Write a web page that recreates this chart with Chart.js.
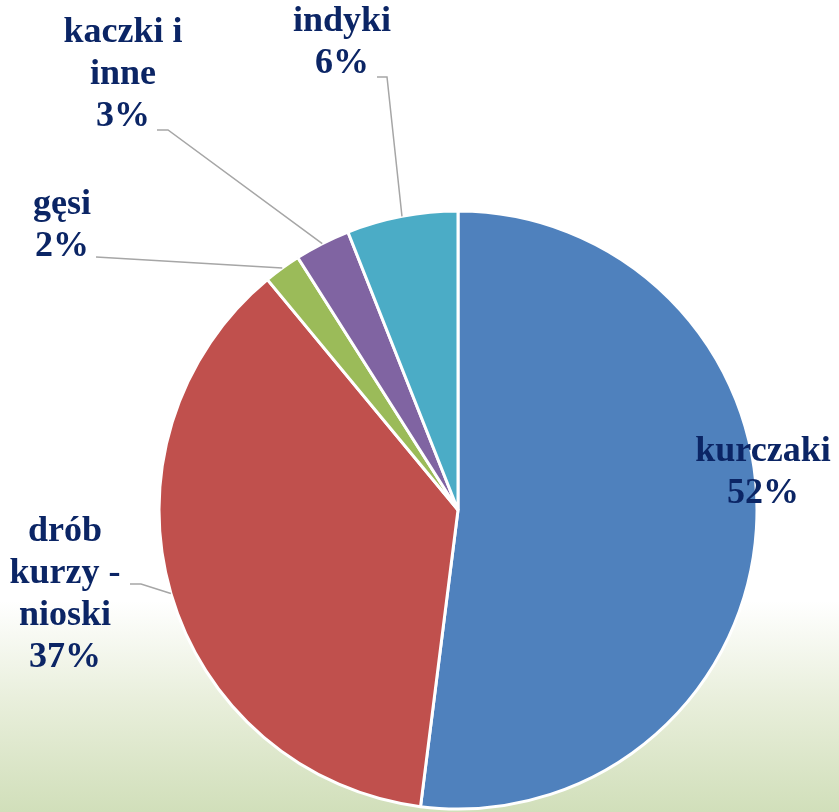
<!DOCTYPE html>
<html>
<head>
<meta charset="utf-8">
<script src="https://cdn.jsdelivr.net/npm/chart.js@4"></script>
<style>
  html, body { margin: 0; padding: 0; }
  body {
    width: 839px; height: 812px; overflow: hidden;
    background: linear-gradient(to bottom, #ffffff 0%, #ffffff 74%, #e9efdc 86%, #d1dfba 100%);
  }
  #wrap { position: relative; width: 839px; height: 812px; }
</style>
</head>
<body>
<div id="wrap"><canvas id="pie" width="839" height="812"></canvas></div>
<script>
// ========== DATA ==========
const categories = ['kurczaki', 'drób kurzy - nioski', 'gęsi', 'kaczki i inne', 'indyki'];
const shares = [52, 37, 2, 3, 6];
const colors = ['#4F81BD', '#C0504D', '#9BBB59', '#8064A2', '#4BACC6'];

// ========== LABEL LAYOUT ==========
// x/y = centre of first text line, stub = where the leader leaves the text
const labelLayout = [
  { x: 763, y: 452, stub: null },
  { x: 65, y: 532, stub: [[130, 584], [141, 584]] },
  { x: 62, y: 205, stub: [[96, 257]] },
  { x: 123, y: 33, stub: [[157, 130], [168, 130]] },
  { x: 342, y: 22, stub: [[377, 77], [387, 77]] }
];
const LABEL_FONT = 'bold 36px "Liberation Serif", "Times New Roman", serif';
const LABEL_COLOR = '#0B2565';
const LINE_H = 42;

function wrapText(ctx, text, maxW) {
  const words = text.split(' ');
  const lines = [];
  let cur = '';
  words.forEach(w => {
    const test = cur ? cur + ' ' + w : w;
    if (cur && ctx.measureText(test).width > maxW) {
      lines.push(cur);
      cur = w;
    } else {
      cur = test;
    }
  });
  if (cur) lines.push(cur);
  return lines;
}

const pieLabels = {
  id: 'pieLabels',
  afterDatasetsDraw(chart) {
    const ctx = chart.ctx;
    const arcs = chart.getDatasetMeta(0).data;
    ctx.save();
    ctx.font = LABEL_FONT;
    ctx.fillStyle = LABEL_COLOR;
    ctx.textAlign = 'center';
    ctx.textBaseline = 'middle';

    arcs.forEach((arc, i) => {
      const lay = labelLayout[i];
      const p = arc.getProps(['x', 'y', 'startAngle', 'endAngle', 'outerRadius'], true);
      const mid = (p.startAngle + p.endAngle) / 2;
      const ax = p.x + Math.cos(mid) * p.outerRadius;
      const ay = p.y + Math.sin(mid) * p.outerRadius;

      // leader line
      if (lay.stub) {
        ctx.beginPath();
        ctx.strokeStyle = '#A6A6A6';
        ctx.lineWidth = 1.5;
        ctx.moveTo(lay.stub[0][0], lay.stub[0][1]);
        lay.stub.slice(1).forEach(pt => ctx.lineTo(pt[0], pt[1]));
        ctx.lineTo(ax, ay);
        ctx.stroke();
      }

      const lines = wrapText(ctx, categories[i], 140);
      lines.push(shares[i] + '%');
      lines.forEach((ln, k) => ctx.fillText(ln, lay.x, lay.y + k * LINE_H));
    });
    ctx.restore();
  }
};

new Chart(document.getElementById('pie'), {
  type: 'pie',
  data: {
    labels: categories,
    datasets: [{
      data: shares,
      backgroundColor: colors,
      borderColor: '#ffffff',
      borderWidth: 3,
      hoverOffset: 0,
      radius: 299
    }]
  },
  options: {
    responsive: false,
    animation: false,
    layout: { padding: { left: 77, right: 0, top: 208, bottom: 0 } },
    plugins: {
      legend: { display: false },
      tooltip: { enabled: false }
    }
  },
  plugins: [pieLabels]
});
</script>
</body>
</html>
